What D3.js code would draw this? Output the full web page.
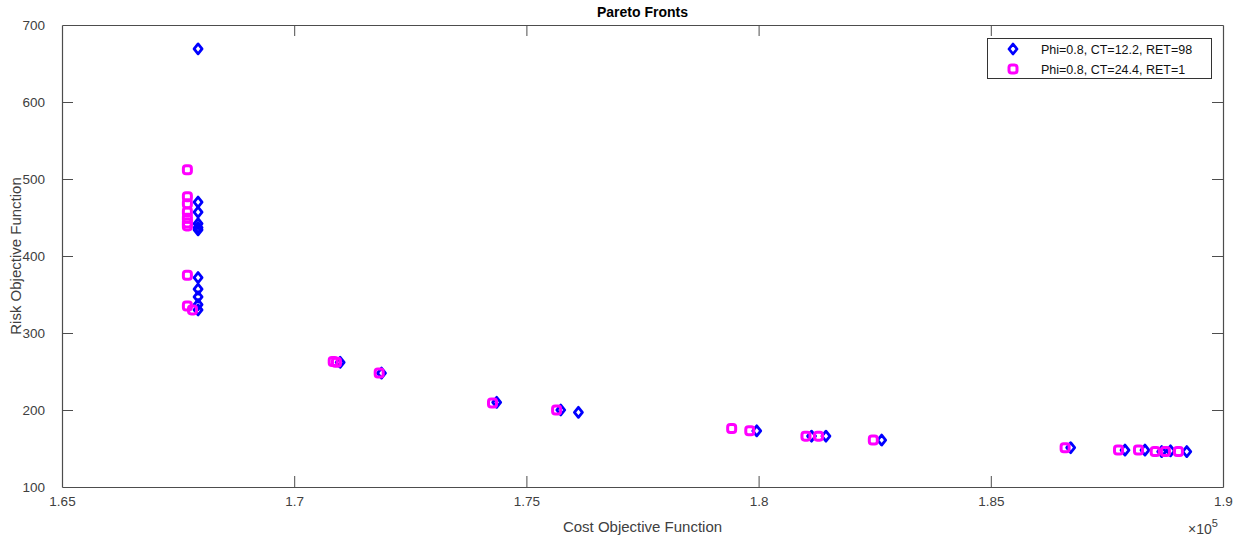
<!DOCTYPE html>
<html>
<head>
<meta charset="utf-8">
<script src="https://cdn.jsdelivr.net/npm/d3@7/dist/d3.min.js"></script>
<style>
  html, body { margin: 0; padding: 0; background: #fff; }
  svg { display: block; font-family: "Liberation Sans", Arial, Helvetica, sans-serif; }
</style>
</head>
<body>
<svg id="chart" width="1246" height="541"></svg>
<script>
// Pareto front solutions, cost in units of 1e5
const seriesNames = ["Phi=0.8, CT=12.2, RET=98", "Phi=0.8, CT=24.4, RET=1"];

const costA = [1.6793, 1.6793, 1.6793, 1.6793, 1.6793, 1.6793,
               1.6793, 1.6793, 1.6793, 1.6793, 1.6793,
               1.7099, 1.7188, 1.7436, 1.7574, 1.7612,
               1.7996, 1.8114, 1.8145, 1.8265, 1.8672,
               1.8789, 1.8832, 1.8868, 1.8887, 1.8922];
const riskA = [669, 470, 457, 442, 437, 434,
               372, 357, 347, 337, 330,
               262, 248, 210, 200, 197,
               173, 166, 166, 161, 151,
               148, 148, 146, 147, 146];

const costB = [1.6770, 1.6770, 1.6770, 1.6770, 1.6770, 1.6770, 1.6770,
               1.6770, 1.6770, 1.6781,
               1.7084, 1.7091, 1.7183, 1.7427, 1.7565,
               1.7942, 1.7981, 1.8102, 1.8129, 1.8247, 1.8660,
               1.8775, 1.8818, 1.8854, 1.8876, 1.8904];
const riskB = [512, 477, 468, 457, 449, 443, 439,
               375, 335, 330,
               263, 262, 248, 209, 200,
               176, 173, 166, 166, 161, 151,
               148, 148, 146, 146, 146];

const xTicks = [1.65, 1.7, 1.75, 1.8, 1.85, 1.9];
const yTicks = [100, 200, 300, 400, 500, 600, 700];

const svg = d3.select("#chart");
const m = { left: 62, right: 1223, top: 25, bottom: 487 };
const axisColor = "#4d4d4d";
const textColor = "#404040";

const x = d3.scaleLinear().domain([1.65, 1.9]).range([m.left, m.right]);
const y = d3.scaleLinear().domain([100, 700]).range([m.bottom, m.top]);

const tickLen = 11;

// Bottom axis (ticks pointing inward) and mirrored top axis
const xAxisB = d3.axisBottom(x).tickValues(xTicks).tickSizeInner(-tickLen).tickSizeOuter(0)
  .tickPadding(tickLen + 5).tickFormat(d => String(+d.toFixed(2)));
const gxB = svg.append("g").attr("transform", `translate(0,${m.bottom})`).call(xAxisB);
const xAxisT = d3.axisTop(x).tickValues(xTicks).tickSizeInner(-tickLen).tickSizeOuter(0).tickFormat("");
const gxT = svg.append("g").attr("transform", `translate(0,${m.top})`).call(xAxisT);

// Left axis and mirrored right axis
const yAxisL = d3.axisLeft(y).tickValues(yTicks).tickSizeInner(-tickLen).tickSizeOuter(0)
  .tickPadding(tickLen + 6);
const gyL = svg.append("g").attr("transform", `translate(${m.left},0)`).call(yAxisL);
const yAxisR = d3.axisRight(y).tickValues(yTicks).tickSizeInner(-tickLen).tickSizeOuter(0).tickFormat("");
const gyR = svg.append("g").attr("transform", `translate(${m.right},0)`).call(yAxisR);

[gxB, gxT, gyL, gyR].forEach(g => {
  g.select(".domain").attr("stroke", axisColor).attr("stroke-width", 1.2);
  g.selectAll(".tick line").attr("stroke", axisColor).attr("stroke-width", 1);
  g.selectAll(".tick text").attr("fill", textColor).style("font-size", "13.5px")
    .style("font-family", "'Liberation Sans', Arial, sans-serif");
});
// End ticks coincide with the box edges
[gxB, gxT].forEach(g => g.selectAll(".tick").filter(d => d === 1.65 || d === 1.9).select("line").remove());
[gyL, gyR].forEach(g => g.selectAll(".tick").filter(d => d === 100 || d === 700).select("line").remove());
gxB.selectAll(".tick text").attr("dy", "0.2em");
gyL.selectAll(".tick text").attr("dy", "0.36em");

// Title and axis labels
svg.append("text").attr("x", (m.left + m.right) / 2).attr("y", 17)
  .attr("text-anchor", "middle").attr("font-weight", "bold").attr("font-size", "14px")
  .attr("fill", "#000").text("Pareto Fronts");
svg.append("text").attr("x", (m.left + m.right) / 2).attr("y", 532)
  .attr("text-anchor", "middle").attr("font-size", "15px").attr("fill", textColor)
  .text("Cost Objective Function");
svg.append("text").attr("transform", `translate(21,${(m.top + m.bottom) / 2}) rotate(-90)`)
  .attr("text-anchor", "middle").attr("font-size", "15px").attr("fill", textColor)
  .text("Risk Objective Function");

// Exponent label
const exp = svg.append("text").attr("x", 1188).attr("y", 534).attr("fill", textColor)
  .attr("font-size", "14px");
exp.append("tspan").text("\u00d710");
exp.append("tspan").attr("dy", -7).attr("font-size", "11px").text("5");

// Markers: blue rounded diamonds, magenta rounded squares
const plot = svg.append("g");
function markerA(g, cx, cy) {
  g.append("path")
    .attr("d", `M${cx},${cy - 5} L${cx + 4},${cy} L${cx},${cy + 5} L${cx - 4},${cy} Z`)
    .attr("fill", "none").attr("stroke", "#0000ff").attr("stroke-width", 2.8)
    .attr("stroke-linejoin", "round");
}
function markerB(g, cx, cy) {
  g.append("rect").attr("x", cx - 4).attr("y", cy - 4).attr("width", 8).attr("height", 8)
    .attr("rx", 2.6).attr("fill", "none").attr("stroke", "#ff00ff").attr("stroke-width", 3);
}
costA.forEach((c, i) => markerA(plot, x(c), y(riskA[i])));
costB.forEach((c, i) => markerB(plot, x(c), y(riskB[i])));

// Legend
const lg = svg.append("g");
lg.append("rect").attr("x", 987.5).attr("y", 38.5).attr("width", 224).attr("height", 40)
  .attr("fill", "#fff").attr("stroke", "#333").attr("stroke-width", 1);
markerA(lg, 1013, 49);
markerB(lg, 1013, 69);
lg.append("text").attr("x", 1041).attr("y", 53.5).attr("font-size", "12.5px").attr("fill", "#111")
  .text(seriesNames[0]);
lg.append("text").attr("x", 1041).attr("y", 73.5).attr("font-size", "12.5px").attr("fill", "#111")
  .text(seriesNames[1]);
</script>
</body>
</html>
